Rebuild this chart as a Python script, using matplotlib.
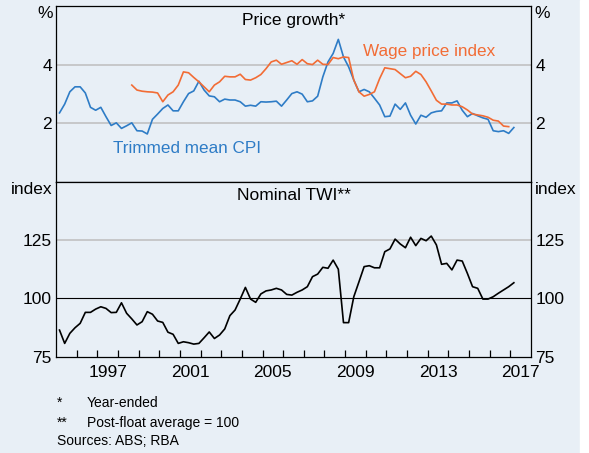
#!/usr/bin/env python3
import matplotlib

matplotlib.use("Agg")
import matplotlib.pyplot as plt
import numpy as np
import pandas as pd
from matplotlib.patches import Rectangle

BG = "#E8EFF6"
BLUE = "#2E7CC6"
ORANGE = "#F26C35"
GRID = "#BDBDBD"
W, H = 589, 453

# Quarterly, year-ended % changes
CPI_START, CPI_END = "1995Q1", "2017Q1"
TRIMMED_MEAN_CPI = [
    2.35, 2.65, 3.07, 3.24, 3.24, 3.03, 2.54, 2.44, 2.54, 2.22,
    1.92, 2.01, 1.82, 1.91, 2.01, 1.74, 1.73, 1.63, 2.13, 2.31,
    2.50, 2.62, 2.42, 2.42, 2.73, 3.01, 3.10, 3.43, 3.13, 2.93,
    2.90, 2.73, 2.82, 2.79, 2.79, 2.73, 2.58, 2.61, 2.58, 2.73,
    2.72, 2.73, 2.75, 2.58, 2.79, 3.01, 3.07, 2.99, 2.73, 2.76,
    2.92, 3.58, 4.09, 4.38, 4.86, 4.26, 3.92, 3.47, 3.07, 3.15,
    3.07, 2.85, 2.62, 2.22, 2.24, 2.65, 2.47, 2.69, 2.27, 1.97,
    2.27, 2.20, 2.35, 2.40, 2.42, 2.69, 2.69, 2.76, 2.44, 2.22,
    2.33, 2.25, 2.18, 2.13, 1.74, 1.71, 1.74, 1.65, 1.85,
]

WPI_START, WPI_END = "1998Q3", "2016Q4"
WAGE_PRICE_INDEX = [
    3.30, 3.13, 3.09, 3.07, 3.06, 3.03, 2.73, 2.96, 3.07, 3.30,
    3.75, 3.72, 3.56, 3.41, 3.24, 3.07, 3.30, 3.41, 3.60, 3.58,
    3.58, 3.67, 3.49, 3.47, 3.55, 3.66, 3.86, 4.09, 4.15, 4.01,
    4.07, 4.13, 4.01, 4.17, 4.03, 4.00, 4.15, 4.01, 4.00, 4.24,
    4.20, 4.26, 4.24, 3.47, 3.07, 2.92, 2.98, 3.07, 3.52, 3.89,
    3.86, 3.83, 3.69, 3.55, 3.60, 3.77, 3.66, 3.41, 3.10, 2.78,
    2.65, 2.65, 2.62, 2.62, 2.56, 2.45, 2.31, 2.28, 2.25, 2.20,
    2.10, 2.07, 1.90, 1.88,
]

# Post-float average = 100
TWI_START, TWI_END = "1995Q1", "2017Q1"
NOMINAL_TWI = [
    86.4, 80.7, 85.0, 87.4, 89.3, 94.0, 94.0, 95.4, 96.4, 95.7,
    93.9, 94.0, 98.1, 93.6, 91.2, 88.6, 90.0, 94.3, 93.2, 90.3,
    89.7, 85.5, 84.6, 80.7, 81.4, 81.0, 80.4, 80.7, 83.1, 85.6,
    82.8, 84.3, 86.9, 92.6, 95.0, 99.7, 104.7, 99.7, 98.3, 101.9,
    103.2, 103.6, 104.3, 103.6, 101.7, 101.4, 102.6, 103.6, 105.0, 109.3,
    110.4, 113.3, 112.9, 116.4, 112.5, 89.6, 89.6, 100.7, 107.1, 113.6,
    114.0, 113.1, 113.1, 120.0, 121.2, 125.4, 123.3, 121.7, 126.2, 122.6,
    125.7, 124.7, 126.7, 122.9, 114.6, 115.0, 112.2, 116.4, 116.0, 110.7,
    105.0, 104.3, 99.7, 99.7, 100.7, 102.2, 103.6, 105.0, 106.7,
]

YEAR_LABELS = [1997, 2001, 2005, 2009, 2013, 2017]
FOOTNOTES = [
    ("*", "Year-ended"),
    ("**", "Post-float average = 100"),
    ("Sources: ABS; RBA", None),
]


def quarter_positions(start: str, end: str) -> np.ndarray:
    periods = pd.period_range(start, end, freq="Q")
    return np.array([p.year + (p.quarter - 1) * 0.25 + 0.17 for p in periods])


def style_panel(ax, ylim, ticks, unit, gridlines):
    ax.set_facecolor(BG)
    ax.set_xlim(1995, 2018)
    ax.set_ylim(*ylim)
    for val, color, lw in gridlines:
        ax.axhline(val, color=color, lw=lw, zorder=1)
    ax.set_yticks(ticks)
    ax.tick_params(axis="y", left=True, right=True, labelleft=True, labelright=True,
                   length=0, labelsize=12.5, pad=3)
    for side in ["left", "right"]:
        x = -0.007 if side == "left" else 1.008
        ha = "right" if side == "left" else "left"
        ax.text(x, 1.0, unit, transform=ax.transAxes, ha=ha, va="top", fontsize=12.5)
    for spine in ax.spines.values():
        spine.set_linewidth(0.9)
        spine.set_color("black")


def main() -> None:
    plt.rcParams["font.family"] = ["Liberation Sans", "DejaVu Sans"]
    fig = plt.figure(figsize=(W / 100, H / 100), dpi=100, facecolor=BG)
    fig.patches.append(Rectangle((580 / W, 0), 9 / W, 1, transform=fig.transFigure,
                                 color="white", zorder=0))

    left, width = 56 / W, (531 - 56) / W
    ax1 = fig.add_axes([left, 1 - 181.7 / H, width, 175.7 / H])
    ax2 = fig.add_axes([left, 1 - 356.7 / H, width, 175 / H])

    # Price growth panel
    style_panel(ax1, (0, 6), [2, 4], "%", [(2, GRID, 1.1), (4, GRID, 1.1)])
    ax1.set_xticks([])
    ax1.plot(quarter_positions(CPI_START, CPI_END), TRIMMED_MEAN_CPI,
             color=BLUE, lw=1.2, zorder=3)
    ax1.plot(quarter_positions(WPI_START, WPI_END), WAGE_PRICE_INDEX,
             color=ORANGE, lw=1.2, zorder=3)
    ax1.text(0.5, 0.915, "Price growth*", transform=ax1.transAxes,
             ha="center", va="center", fontsize=12.5)
    ax1.text(1997.77, 1.14, "Trimmed mean CPI", color=BLUE, fontsize=12.3,
             ha="left", va="center")
    ax1.text(2009.85, 4.43, "Wage price index", color=ORANGE, fontsize=12.3,
             ha="left", va="center")

    # TWI panel
    style_panel(ax2, (75, 150), [75, 100, 125], "index",
                [(125, GRID, 1.1), (100, "black", 0.8)])
    ax2.plot(quarter_positions(TWI_START, TWI_END), NOMINAL_TWI,
             color="black", lw=1.2, zorder=3)
    ax2.text(0.5, 0.92, "Nominal TWI**", transform=ax2.transAxes,
             ha="center", va="center", fontsize=12.5)
    ax2.set_xticks(range(1996, 2018))
    ax2.set_xticklabels([])
    ax2.set_xticks([y + 0.5 for y in YEAR_LABELS], minor=True)
    ax2.set_xticklabels([str(y) for y in YEAR_LABELS], minor=True)
    ax2.tick_params(axis="x", which="major", direction="in", length=5, width=0.9)
    ax2.tick_params(axis="x", which="minor", length=0, labelsize=12.5, pad=6)

    # Footnotes
    rows = [403, 423, 441]
    for (mark, note), y in zip(FOOTNOTES, rows):
        fig.text(57 / W, 1 - y / H, mark, fontsize=10, ha="left", va="center")
        if note:
            fig.text(87 / W, 1 - y / H, note, fontsize=10, ha="left", va="center")

    fig.savefig("out.png", dpi=100, facecolor=fig.get_facecolor())


if __name__ == "__main__":
    main()
